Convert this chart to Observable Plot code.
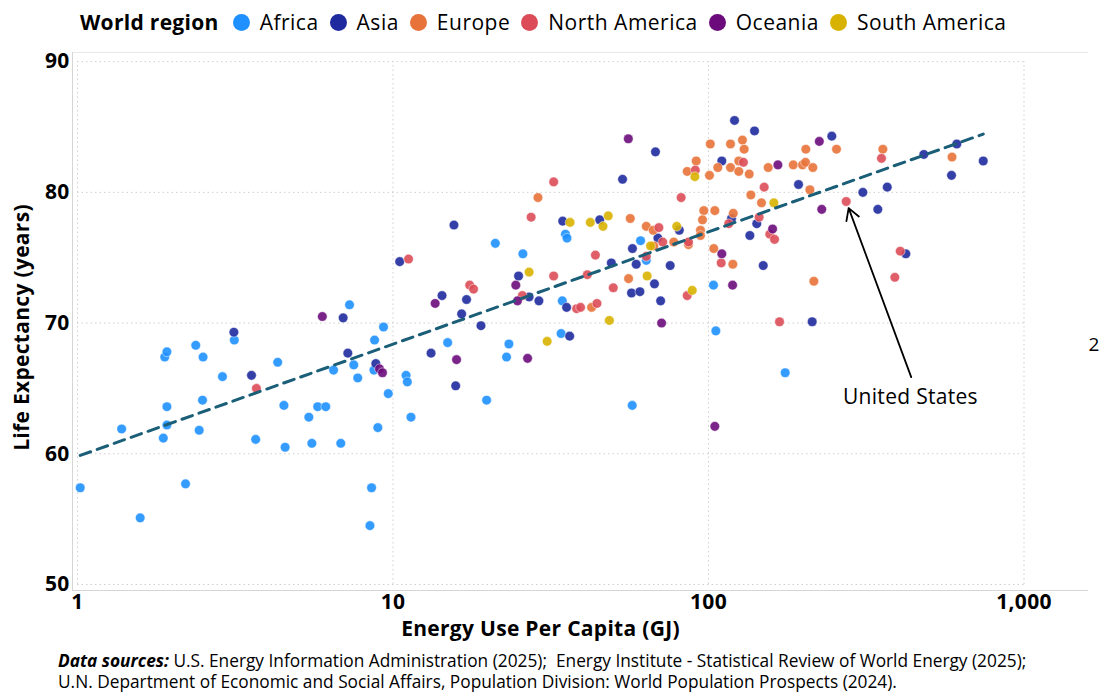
<!DOCTYPE html>
<html>
<head>
<meta charset="utf-8">
<script src="https://cdn.jsdelivr.net/npm/d3@7"></script>
<script src="https://cdn.jsdelivr.net/npm/@observablehq/plot@0.6"></script>
<style>
  body { margin: 0; background: #fff; font-family: "Open Sans", sans-serif; color: #000; }
  #wrap { width: 1100px; }
  #legend { height: 42px; display: flex; align-items: center; padding-left: 80px; padding-top: 2px; box-sizing: border-box; font-size: 21px; letter-spacing: 0.5px; white-space: nowrap; }
  #legend .title { font-weight: bold; margin-right: 14px; letter-spacing: 0.3px; }
  #legend .item { display: flex; align-items: center; margin-right: 11px; }
  #legend .sw { width: 17px; height: 17px; border-radius: 50%; margin-right: 10px; }
  #chart svg { display: block; }
  #chart svg text { letter-spacing: 0.3px; }
  #caption { padding-left: 58px; font-size: 17.3px; line-height: 21px; margin-top: 0; white-space: nowrap; }
  #caption b { font-style: italic; }
</style>
</head>
<body>
<div id="wrap">
  <div id="legend"></div>
  <div id="chart"></div>
  <div id="caption"><b>Data sources:</b> U.S. Energy Information Administration (2025);&nbsp; Energy Institute - Statistical Review of World Energy (2025);<br>U.N. Department of Economic and Social Affairs, Population Division: World Population Prospects (2024).</div>
</div>
<script>
// ---- Data (energy use per capita in GJ, life expectancy in years) ----
const regions = ["Africa", "Asia", "Europe", "North America", "Oceania", "South America"];
const regionColors = ["#1E90FF", "#1F2A9E", "#E8733A", "#DC4C58", "#6C0C7C", "#D8B200"];

const africa = [[1.02,57.4],[1.58,55.1],[1.38,61.9],[1.87,61.2],[1.92,62.2],[1.92,63.6],[1.89,67.4],[1.92,67.8],[2.20,57.7],[2.37,68.3],[2.50,67.4],[2.43,61.8],[2.49,64.1],[2.88,65.9],[3.14,68.7],[3.67,61.1],[4.31,67.0],[4.51,63.7],[4.55,60.5],[5.41,62.8],[5.53,60.8],[5.77,63.6],[6.12,63.6],[7.28,71.4],[6.48,66.4],[7.51,66.8],[7.73,65.8],[6.83,60.8],[8.74,68.7],[9.33,69.7],[8.70,66.4],[9.66,64.6],[8.95,62.0],[8.55,57.4],[8.45,54.5],[11.0,66.0],[11.1,65.5],[11.4,62.8],[14.9,68.5],[19.8,64.1],[21.1,76.1],[23.3,68.4],[22.9,67.4],[25.8,75.3],[35.2,76.8],[35.6,76.5],[34.4,71.7],[34.1,69.2],[57.3,63.7],[60.9,76.3],[63.5,74.8],[103.7,72.9],[105.5,69.4],[175,66.2]];
const asia = [[3.13,69.3],[3.56,66.0],[6.95,70.4],[7.19,67.7],[8.82,66.9],[10.5,74.7],[15.6,77.5],[14.3,72.1],[17.1,71.8],[16.5,70.7],[19.0,69.8],[13.2,67.7],[15.8,65.2],[25.0,73.6],[27.0,72.0],[29.0,71.7],[35.5,71.2],[36.3,69.0],[34.5,77.8],[45.2,77.9],[53.4,81.0],[57.4,75.7],[69.1,76.5],[59.0,74.5],[49.2,74.6],[67.4,73.0],[57.0,72.3],[60.6,72.4],[70.5,71.7],[75.6,74.4],[80.8,77.1],[67.9,83.1],[120.9,85.5],[139.9,84.7],[110.2,82.4],[118.3,78.0],[142.2,77.6],[135.2,76.7],[149.1,74.4],[192.9,80.6],[245.9,84.3],[308.4,80.0],[368.6,80.4],[344.0,78.7],[481.3,82.9],[612.4,83.7],[589.1,81.3],[742.6,82.4],[422.1,75.3],[213.1,70.1]];
const europe = [[28.8,79.6],[56.5,78.0],[63.5,77.4],[66.8,77.1],[67.1,75.9],[77.6,76.2],[86.4,76.0],[55.8,73.4],[42.6,71.2],[101.3,83.7],[117.4,83.7],[128.1,84.0],[129.7,83.3],[91.4,82.4],[85.6,81.6],[100.7,81.3],[107.0,81.9],[117.4,81.9],[124.7,82.4],[124.7,81.6],[134.6,81.4],[154.6,81.9],[185.6,82.1],[198.6,82.1],[203.0,82.3],[214.1,81.9],[203.4,83.3],[254.5,83.3],[209.5,80.2],[136.2,79.8],[147.2,79.2],[96.6,78.6],[104.7,78.6],[95.7,77.9],[94.3,77.1],[94.3,76.7],[119.8,78.4],[103.9,75.7],[119.4,74.5],[215.7,73.2],[356.9,83.3],[591.3,82.7]];
const northAmerica = [[3.69,65.0],[11.2,74.9],[17.5,72.9],[18.0,72.6],[32.3,80.8],[27.4,78.1],[43.8,75.2],[69.6,77.3],[63.5,75.1],[32.3,73.6],[41.3,73.7],[49.9,72.7],[25.7,72.1],[38.2,71.1],[39.3,71.2],[44.3,71.5],[71.6,76.2],[86.4,76.2],[85.6,72.1],[90.8,81.7],[129.0,82.3],[81.9,79.6],[115.9,77.6],[144.7,78.1],[156.4,76.8],[161.9,76.4],[150.1,80.4],[109.7,74.6],[273.2,79.3],[353.4,82.6],[405.2,75.5],[389.5,73.5],[167.9,70.1]];
const oceania = [[5.97,70.5],[9.06,66.5],[9.26,66.2],[13.6,71.5],[15.9,67.2],[24.5,72.9],[24.8,71.7],[26.7,67.3],[55.7,84.1],[165.9,82.1],[224.5,83.9],[228.5,78.7],[159.6,77.2],[110.2,75.3],[119.2,72.9],[71.0,70.0],[104.7,62.1]];
const southAmerica = [[36.4,77.7],[42.2,77.7],[48.1,78.2],[46.3,77.4],[27.0,73.9],[63.9,73.6],[65.5,75.9],[48.5,70.2],[30.8,68.6],[79.3,77.4],[90.5,81.2],[161.1,79.2],[88.8,72.5]];

const xTicks = [1, 10, 100, 1000];
const yTicks = [50, 60, 70, 80, 90];
const xDomain = [0.964, 1601];
const yDomain = [49.54, 90.7];

// Annotation: label position and the highlighted country
const usPoint = {energy: 273.2, life: 79.3};
const usLabel = {text: "United States", energy: 436.5, life: 64.33, tailEnergy: 439, tailLife: 65.86};
const stray = {text: "2", life: 68.3};

// ---- Build table ----
const seriesByRegion = [africa, asia, europe, northAmerica, oceania, southAmerica];
const rows = regions.flatMap((r, i) => seriesByRegion[i].map(([e, l]) => ({region: r, energy: e, life: l})));

// Least-squares fit of life expectancy on log10(energy)
const lx = rows.map(d => Math.log10(d.energy));
const ly = rows.map(d => d.life);
const mx = d3.mean(lx), my = d3.mean(ly);
const b = d3.sum(lx, (v, i) => (v - mx) * (ly[i] - my)) / d3.sum(lx, v => (v - mx) ** 2);
const a = my - b * mx;
const [eMin, eMax] = d3.extent(rows, d => d.energy);
const trend = [eMin, eMax].map(e => ({energy: e, life: a + b * Math.log10(e)}));

// ---- Legend ----
const legend = document.getElementById("legend");
legend.innerHTML = `<span class="title">World region</span>` + regions.map((r, i) =>
  `<span class="item"><span class="sw" style="background:${regionColors[i]}"></span>${r}</span>`).join("");

// ---- Chart ----
const grid = {stroke: "#cfcfcf", strokeWidth: 1, strokeDasharray: "1.5,3"};
const chart = Plot.plot({
  width: 1100,
  height: 608,
  marginTop: 10,
  marginLeft: 72,
  marginRight: 12,
  marginBottom: 60,
  style: {fontFamily: "Open Sans, sans-serif", color: "#000", background: "#fff"},
  x: {type: "log", domain: xDomain},
  y: {domain: yDomain},
  color: {domain: regions, range: regionColors},
  marks: [
    Plot.ruleX(xTicks, {x: d => d, y1: yTicks[0], y2: yTicks[yTicks.length - 1], ...grid}),
    Plot.ruleY(yTicks, {y: d => d, x1: xTicks[0], x2: xTicks[xTicks.length - 1], ...grid}),
    Plot.ruleY([yDomain[1]], {stroke: "#e8e8e8"}),
    Plot.ruleY([yDomain[0]], {stroke: "#d6d6d6"}),
    Plot.ruleX([xDomain[0]], {stroke: "#d6d6d6"}),
    Plot.axisX({ticks: xTicks, tickFormat: d3.format(","), tickSize: 0, tickPadding: 4, fontSize: 21, fontWeight: "bold", label: null}),
    Plot.axisY({ticks: yTicks, tickSize: 0, tickPadding: 3, fontSize: 21, fontWeight: "bold", label: null}),
    Plot.dot(rows, {x: "energy", y: "life", fill: "region", r: 4.8, fillOpacity: 0.9, stroke: "white", strokeWidth: 0.6, strokeOpacity: 0.8}),
    Plot.line(trend, {x: "energy", y: "life", stroke: "#1B5E78", strokeWidth: 3, strokeDasharray: "11,7"}),
    Plot.arrow([usLabel], {x1: "tailEnergy", y1: "tailLife", x2: () => usPoint.energy, y2: () => usPoint.life, insetEnd: 7, stroke: "#000", strokeWidth: 1.8, headLength: 11, bend: 0}),
    Plot.text([usLabel], {x: "energy", y: "life", text: "text", fontSize: 21, fill: "#000"}),
    Plot.text([stray], {y: "life", text: "text", frameAnchor: "right", textAnchor: "start", dx: 0, fontSize: 19, fill: "#000"}),
    Plot.text(["Energy Use Per Capita (GJ)"], {frameAnchor: "bottom", textAnchor: "middle", lineAnchor: "middle", dx: -40, dy: 39, fontSize: 21, fontWeight: "bold", fill: "#000"}),
    Plot.text(["Life Expectancy (years)"], {frameAnchor: "left", textAnchor: "middle", lineAnchor: "middle", rotate: -90, dx: -50, dy: 6, fontSize: 21, fontWeight: "bold", fill: "#000"})
  ]
});
document.getElementById("chart").appendChild(chart);
</script>
</body>
</html>
